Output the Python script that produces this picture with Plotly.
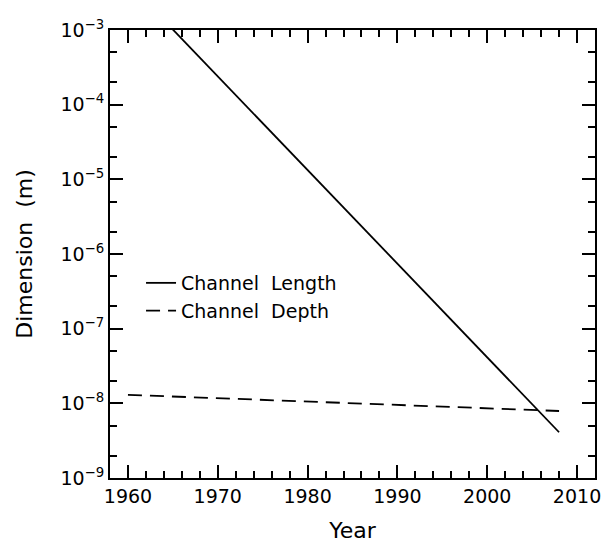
import plotly.graph_objects as go

years_length = [1960, 2008]
length_m = [4.3e-3, 4.1e-9]
years_depth = [1960, 2008]
depth_m = [1.3e-8, 7.9e-9]
y_tick_vals = [1e-9, 1e-8, 1e-7, 1e-6, 1e-5, 1e-4, 1e-3]
y_tick_text = ["10<sup>−9</sup>", "10<sup>−8</sup>", "10<sup>−7</sup>", "10<sup>−6</sup>",
               "10<sup>−5</sup>", "10<sup>−4</sup>", "10<sup>−3</sup>"]
x_tick_vals = [1960, 1970, 1980, 1990, 2000, 2010]

FONT = "DejaVu Sans, Verdana, sans-serif"

fig = go.Figure()
fig.add_trace(go.Scatter(x=years_length, y=length_m, mode="lines", name="Channel  Length",
                         line=dict(color="black", width=1.8)))
fig.add_trace(go.Scatter(x=years_depth, y=depth_m, mode="lines", name="Channel  Depth",
                         line=dict(color="black", width=1.8, dash="14px,8px")))

axis_common = dict(showline=True, linecolor="black", linewidth=2, mirror="ticks",
                   ticks="inside", ticklen=13, tickwidth=2, tickcolor="black",
                   showgrid=False, zeroline=False, automargin=False,
                   ticklabeloverflow="allow",
                   tickfont=dict(size=19, color="black", family=FONT))

fig.update_xaxes(range=[1958, 2012], tickvals=x_tick_vals,
                 minor=dict(ticks="inside", ticklen=7, tickwidth=2, tickcolor="black", dtick=2, showgrid=False),
                 title=dict(text="Year", font=dict(size=22, color="black", family=FONT), standoff=18),
                 **axis_common)
fig.update_yaxes(type="log", range=[-9, -3], tickvals=y_tick_vals, ticktext=y_tick_text,
                 minor=dict(ticks="inside", ticklen=7, tickwidth=2, tickcolor="black", showgrid=False),
                 title=dict(text="Dimension  (m)", font=dict(size=22, color="black", family=FONT), standoff=22),
                 **axis_common)

fig.update_layout(width=602, height=543, margin=dict(l=110, r=7, t=30, b=65),
                  paper_bgcolor="white", plot_bgcolor="white",
                  font=dict(family=FONT, color="black"),
                  legend=dict(x=0.064, y=0.404, xanchor="left", yanchor="middle",
                              bgcolor="rgba(0,0,0,0)", font=dict(size=19, family=FONT, color="black"),
                              tracegroupgap=0))
fig.write_html("out.html")
